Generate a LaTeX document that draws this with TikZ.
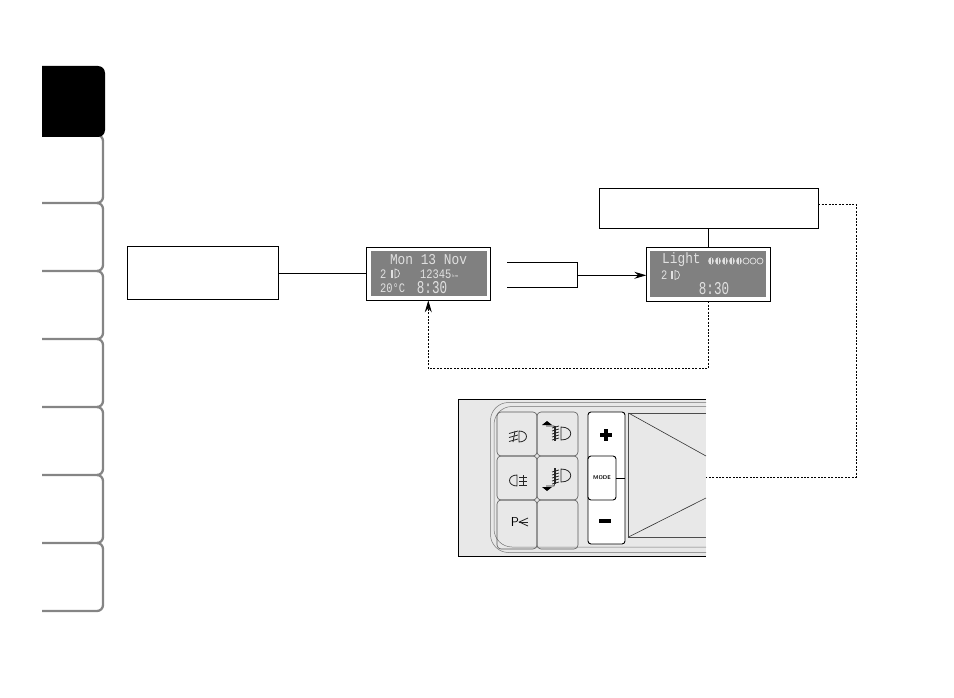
\documentclass[tikz,border=0pt]{standalone}
\usepackage{fontspec}
\setmonofont{Liberation Mono}
\usetikzlibrary{arrows.meta}

\tikzset{
  tabline/.style={draw=black!48, line width=2.3pt, rounded corners=6pt},
  textbox/.style={draw, fill=white, line width=1pt, inner sep=0pt, outer sep=0pt},
  lcdframe/.style={draw, fill=white, line width=1.1pt, inner sep=0pt, outer sep=0pt, minimum width=124pt},
  lcdscreen/.style={fill=black!50, inner sep=0pt, outer sep=0pt, minimum width=116pt},
  lcdtext/.style={text=black!12, inner sep=0pt, xscale=.855, transform shape, font=\ttfamily\fontsize{15}{15}\selectfont},
  lcdsmall/.style={text=black!12, inner sep=0pt, xscale=.8, transform shape, font=\ttfamily\fontsize{13}{13}\selectfont},
  lcdbig/.style={text=black!12, inner sep=0pt, xscale=.7, transform shape, font=\ttfamily\fontsize{18}{18}\selectfont},
  lcdicon/.style={draw=black!12, line width=.7pt},
  link/.style={line width=1pt},
  dotlink/.style={line width=.9pt, dash pattern=on 2pt off 1.4pt},
  cell/.style={draw=black!65, line width=.6pt, rounded corners=4pt},
  rim/.style={draw=black!55, line width=.5pt, rounded corners=18pt},
  keybtn/.style={draw, fill=white, line width=.9pt, rounded corners=3pt},
  icon/.style={draw=black!85, line width=.8pt},
  bigtip/.style={-{Stealth[length=12pt, width=7pt, inset=4pt]}},
}

\begin{document}
\begin{tikzpicture}[x=1pt, y=-1pt]
\useasboundingbox (0,0) rectangle (954,698);

% Side tabs
\foreach \y in {203,271,339,407,475,543,611}
  \draw[tabline] (42,\y) -- (103,\y) -- (103,\y-68) -- (97,\y-68);
\fill[black, rounded corners=7pt] (42,66) -- (105,66) -- (105,137) -- (42,137) [sharp corners] -- cycle;
\fill[black] (42,66) rectangle (60,137);

% Boxes
\node[textbox, minimum width=151pt, minimum height=53pt] (infobox) at (203,273) {};
\node[textbox, minimum width=219pt, minimum height=40pt] (lightbox) at (708.8,208.3) {};

% Date display
\node[lcdframe, minimum height=53pt] (dateframe) at (428.5,273.8) {};
\node[lcdscreen, minimum height=45pt] (datescreen) at (dateframe) {};
\node[lcdtext] (dateline) at (428.5,259.3) {Mon 13 Nov};
\node[lcdsmall, anchor=west] (dategear) at (380,274) {2};
\node[lcdsmall, anchor=west] (dateodo) at (420,274) {12345};
\node[text=black!12, inner sep=0pt, anchor=west, font=\sffamily\fontsize{4.5}{5}\selectfont] (datekm) at (452,276) {km};
\node[lcdsmall, anchor=west] (datetemp) at (380,288.5) {20°C};
\node[lcdbig] (dateclock) at (432,287.5) {8:30};
\draw[lcdicon] (395,269) .. controls (401,269) and (401,278) .. (395,278) -- cycle;
\draw[lcdicon, line width=1.2pt] (392,269.5) -- (392,277.5);

% Light display
\node[lcdframe, minimum height=54pt] (lightframe) at (708.3,274.3) {};
\node[lcdscreen, minimum height=46pt] (lightscreen) at (lightframe) {};
\node[lcdtext, anchor=west] (lighttext) at (662,260) {Light};
\node[lcdsmall, anchor=west] (lightgear) at (661,275) {2};
\node[lcdbig] (lightclock) at (714,289) {8:30};
\draw[lcdicon] (675,270.5) .. controls (681,270.5) and (681,279.5) .. (675,279.5) -- cycle;
\draw[lcdicon, line width=1.2pt] (672,271) -- (672,279);
\foreach \x in {711,718,725,732,739}
  \fill[black!12] (\x,261) ellipse (2.8pt and 3.6pt);
\foreach \x in {711,718,725,732,739}
  \draw[black!50, line width=.9pt] (\x,258) -- (\x,264);
\foreach \x in {746,753,760}
  \draw[lcdicon] (\x,261) circle (3pt);

% Connectors
\coordinate (upper) at (507,262.3);
\coordinate (lower) at (507,287.3);
\coordinate (joint) at (577.7,275.3);
\coordinate (dateup) at (428.3,368.3);
\coordinate (farright) at (856,204.3);
\coordinate (fardown) at (856,477);
\draw[link] (infobox.east) -- (infobox.east -| dateframe.west);
\draw[link] (lightbox.south -| lightframe.north) -- (lightframe.north);
\draw[link] (upper) -| (joint) |- (lower);
\draw[link, bigtip] (joint) -- (lightframe.west |- joint);
\draw[dotlink, bigtip] (lightframe.south) -- (lightframe.south |- dateup) -- (dateup) -- (dateframe.south -| dateup);

% Panel
\fill[black!9] (458.3,399.3) rectangle (706,556.7);
\draw[line width=1pt] (706,399.3) -- (458.3,399.3) -- (458.3,556.7) -- (706,556.7);
\draw[rim] (706,402.5) -- (490.5,402.5) -- (490.5,552.5) -- (706,552.5);
\draw[rim] (706,406.5) -- (494,406.5) -- (494,547) -- (706,547);

% Switches
\draw[cell] (497,412) rectangle (537,456);
\draw[cell] (537,412) rectangle (578,456);
\draw[cell] (497,456) rectangle (537,500);
\draw[cell] (537,456) rectangle (578,500);
\draw[cell] (497,500) rectangle (537,549);
\draw[cell] (537,500) rectangle (578,549);

% Keys
\draw[keybtn] (588,412) rectangle (625,544);
\node[keybtn, minimum width=28pt, minimum height=44pt, inner sep=0pt, outer sep=0pt, font=\sffamily\bfseries\fontsize{5.5}{6}\selectfont] (modekey) at (602,478) {MODE};
\coordinate (keyedge) at (625,477);
\draw[line width=.8pt] (modekey.east) -- (modekey.east -| keyedge);
\fill (600,433) rectangle (612,436.5);
\fill (604.2,428.5) rectangle (607.8,441);
\fill (599,519) rectangle (611,523);

% Wedge
\draw[black!70, line width=.6pt] (706,413) -- (628.5,413) -- (628.5,537) -- (706,537);
\draw[black!80, line width=.6pt] (628.5,413) -- (706,456);
\draw[black!80, line width=.6pt] (628.5,537) -- (706,498);

% Panel link
\draw[dotlink] (lightbox.east |- farright) -- (farright) -- (fardown) -- (706,477);

% Icons
\draw[icon] (519,431) .. controls (529,431) and (529,442) .. (519,442) -- cycle;
\draw[icon] (515,431) -- (513,442);
\foreach \y in {432,436,440}
  \draw[icon] (509,\y+1.5) -- (518,\y-1);
\draw[icon] (517,475) .. controls (507,475) and (507,486) .. (517,486) -- cycle;
\draw[icon] (523,475) -- (523,486);
\foreach \y in {477,481,485}
  \draw[icon] (519,\y) -- (527,\y);

\draw[icon] (561,427) .. controls (574,427) and (574,440) .. (561,440) -- cycle;
\draw[icon] (546,426) -- (554,426) -- (555,430);
\fill (542,425) -- (552,425) -- (547,421) -- cycle;
\foreach \y in {428,431,434,437,440}
  \draw[icon] (552,\y) -- (559,\y-2);
\draw[icon, line width=1.4pt] (555,426) -- (555,441);

\draw[icon] (561,469) .. controls (574,469) and (574,482) .. (561,482) -- cycle;
\draw[icon] (546,486) -- (554,486) -- (555,482);
\fill (542,487) -- (552,487) -- (547,491) -- cycle;
\foreach \y in {472,475,478,481,484}
  \draw[icon] (552,\y) -- (559,\y-2);
\draw[icon, line width=1.4pt] (555,468) -- (555,484);

\node[inner sep=0pt, font=\sffamily\fontsize{13}{13}\selectfont] (parking) at (515,522) {P};
\coordinate (raytop) at (528,518);
\coordinate (raymid) at (528,522);
\coordinate (raylow) at (528,526);
\draw[icon] (raytop) -- (parking.east) -- (raylow);
\draw[icon] (parking.east) -- (raymid);

\end{tikzpicture}
\end{document}
